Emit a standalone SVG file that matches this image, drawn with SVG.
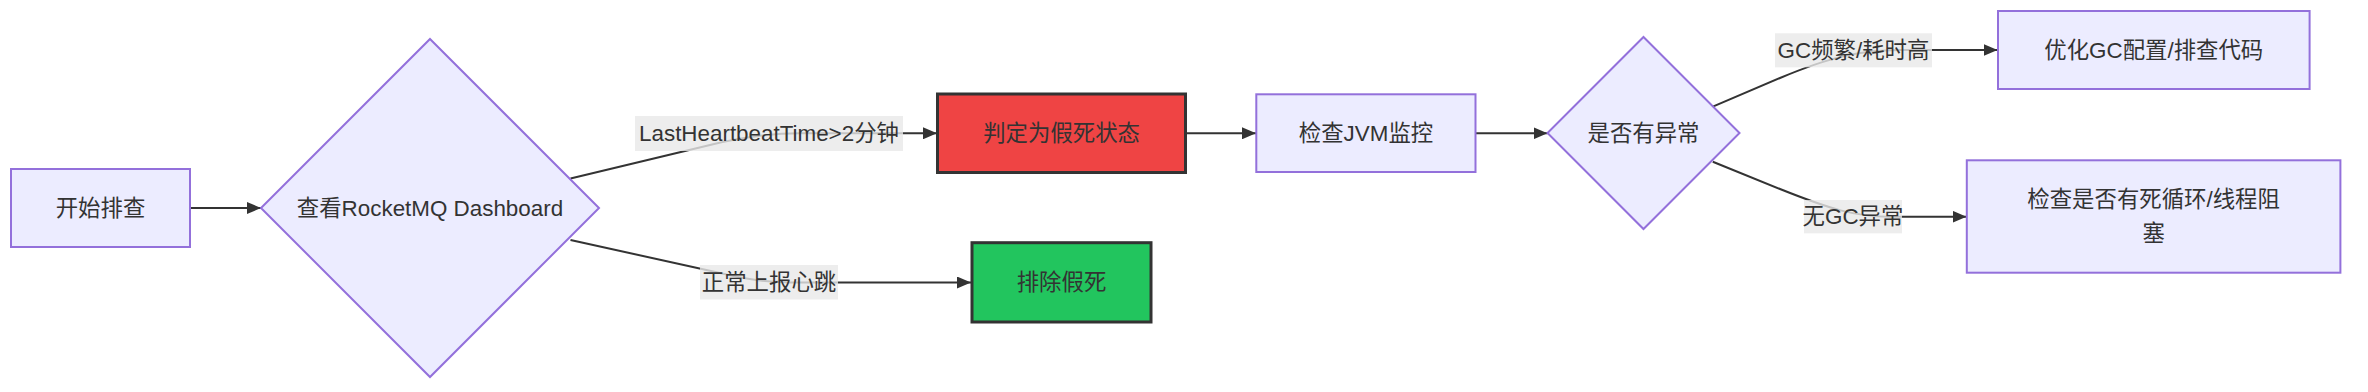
<svg xmlns="http://www.w3.org/2000/svg" width="2368" height="392" viewBox="0 0 2368 392">
<style>
  text { font-family: "Liberation Sans", "Noto Sans CJK SC", sans-serif; font-size: 22.4px; fill: #333; text-anchor: middle; dominant-baseline: central; }
  .node { fill: #ECECFF; stroke: #9370DB; stroke-width: 2; }
  .red { fill: #ef4444; stroke: #333; stroke-width: 3; }
  .green { fill: #22c55e; stroke: #333; stroke-width: 3; }
  .edge { fill: none; stroke: #333; stroke-width: 2; marker-end: url(#arrow); }
  .lbl { fill: rgba(232,232,232,0.8); }
</style>
<defs>
  <marker id="arrow" viewBox="0 0 14 12" markerWidth="14" markerHeight="12" refX="14" refY="6" orient="auto" markerUnits="userSpaceOnUse">
    <path d="M0,0 L14,6 L0,12 z" fill="#333"/>
  </marker>
</defs>
<rect width="2368" height="392" fill="#fff"/>
<g id="connectors">
  <path class="edge" d="M190,208 L261,208"/>
  <path class="edge" d="M570.5,178.5 L710,145 C745,136.5 770,133.3 800,133.3 L937,133.3"/>
  <path class="edge" d="M570.5,240 L720,273 C745,279 765,282.5 800,282.5 L971,282.5"/>
  <path class="edge" d="M1185.7,133.3 L1256,133.3"/>
  <path class="edge" d="M1475.5,133.3 L1547.5,133.3"/>
  <path class="edge" d="M1712.8,106.7 L1780,78 C1830,57 1860,50 1900,50 L1997.5,50"/>
  <path class="edge" d="M1712.8,161.7 L1780,189 C1830,209 1855,216.7 1890,216.7 L1966.5,216.7"/>
  <g id="edge-labels">
    <rect class="lbl" x="635" y="116" width="268" height="35"/>
    <text x="769" y="133.5">LastHeartbeatTime&gt;2分钟</text>
    <rect class="lbl" x="700" y="265" width="138" height="34.5"/>
    <text x="769" y="282.3">正常上报心跳</text>
    <rect class="lbl" x="1775" y="33.3" width="157" height="34"/>
    <text x="1853.5" y="50.3">GC频繁/耗时高</text>
    <rect class="lbl" x="1804" y="200" width="98" height="33.3"/>
    <text x="1853" y="216.7">无GC异常</text>
  </g>
</g>
<g id="start">
  <rect class="node" x="11" y="169" width="179" height="78"/>
  <text x="100.5" y="208">开始排查</text>
</g>
<g id="dashboard">
  <polygon class="node" points="430,39 599,208 430,377 261,208"/>
  <text x="430" y="208">查看RocketMQ Dashboard</text>
</g>
<g id="fake-dead">
  <rect class="red" x="937.5" y="94" width="248" height="78.5"/>
  <text x="1061.6" y="133.3">判定为假死状态</text>
</g>
<g id="exclude">
  <rect class="green" x="972" y="242.7" width="179" height="79.3"/>
  <text x="1061.5" y="282.4">排除假死</text>
</g>
<g id="jvm">
  <rect class="node" x="1256.3" y="94.3" width="219.2" height="77.7"/>
  <text x="1366" y="133.3">检查JVM监控</text>
</g>
<g id="abnormal">
  <polygon class="node" points="1643.5,37 1739.5,133 1643.5,229 1547.5,133"/>
  <text x="1643.5" y="133">是否有异常</text>
</g>
<g id="optimize">
  <rect class="node" x="1998" y="11" width="311.6" height="78"/>
  <text x="2153.8" y="50">优化GC配置/排查代码</text>
</g>
<g id="deadloop">
  <rect class="node" x="1966.8" y="160.3" width="373.6" height="112.4"/>
  <text x="2153.6" y="199.5">检查是否有死循环/线程阻</text>
  <text x="2153.6" y="233.5">塞</text>
</g>
</svg>
